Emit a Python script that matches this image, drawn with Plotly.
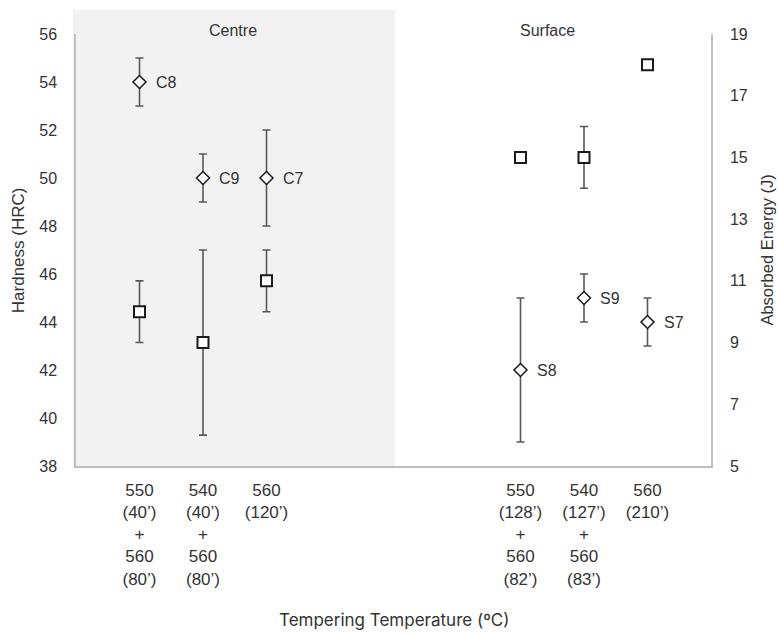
import plotly.graph_objects as go

# Heat-treatment schedules (temperature in ºC, time in minutes)
centre_ticks = ["550<br>(40’)<br>+<br>560<br>(80’)",
                "540<br>(40’)<br>+<br>560<br>(80’)",
                "560<br>(120’)"]
surface_ticks = ["550<br>(128’)<br>+<br>560<br>(82’)",
                 "540<br>(127’)<br>+<br>560<br>(83’)",
                 "560<br>(210’)"]

centre_ids = ["C8", "C9", "C7"]
surface_ids = ["S8", "S9", "S7"]

# Hardness (HRC) with standard deviation
centre_hardness = [54, 50, 50]
centre_hardness_sd = [1, 1, 2]
surface_hardness = [42, 45, 44]
surface_hardness_sd = [3, 1, 1]

# Absorbed energy (J) with standard deviation
centre_energy = [10, 9, 11]
centre_energy_sd = [1, 3, 1]
surface_energy = [15, 15, 18]
surface_energy_sd = [0, 1, 0]

# category slots: centre group at 1-3, surface group at 7-9
xs = [1, 2, 3] + [7, 8, 9]
ticks = centre_ticks + surface_ticks
ids = centre_ids + surface_ids
hardness = centre_hardness + surface_hardness
hardness_sd = centre_hardness_sd + surface_hardness_sd
energy = centre_energy + surface_energy
energy_sd = centre_energy_sd + surface_energy_sd

FONT = "Liberation Sans, Arial, sans-serif"
TXT = "#333333"
ERR = "#595959"
AXIS = "#bfbfbf"

fig = go.Figure()

fig.add_trace(go.Scatter(
    x=xs, y=hardness, mode="markers", name="Hardness",
    marker=dict(symbol="diamond", size=10, color="white",
                line=dict(color="#1a1a1a", width=1.5)),
    error_y=dict(type="data", array=hardness_sd, visible=True,
                 color=ERR, thickness=1.6, width=4),
    showlegend=False,
))

fig.add_trace(go.Scatter(
    x=xs, y=energy, mode="markers", name="Absorbed Energy", yaxis="y2",
    marker=dict(symbol="square", size=11, color="white",
                line=dict(color="#1a1a1a", width=2)),
    error_y=dict(type="data", array=energy_sd, visible=True,
                 color=ERR, thickness=1.6, width=4),
    showlegend=False,
))

# sample labels beside the hardness markers
for x, y, t in zip(xs, hardness, ids):
    fig.add_annotation(x=x, y=y, xref="x", yref="y", text=t, showarrow=False,
                       xanchor="left", yanchor="middle", xshift=14,
                       font=dict(family=FONT, size=16, color=TXT))

# shaded background for the centre region
fig.add_shape(type="rect", xref="paper", yref="paper",
              x0=-0.005, x1=0.5024, y0=-0.005, y1=1.056,
              fillcolor="#f2f2f2", line=dict(width=0), layer="below")

fig.add_annotation(x=0.248, y=1.007, xref="paper", yref="paper", text="Centre",
                   showarrow=False, xanchor="center", yanchor="middle",
                   font=dict(family=FONT, size=16, color=TXT))
fig.add_annotation(x=0.742, y=1.007, xref="paper", yref="paper", text="Surface",
                   showarrow=False, xanchor="center", yanchor="middle",
                   font=dict(family=FONT, size=16, color=TXT))

# axis titles
fig.add_annotation(x=-0.091, y=0.5, xref="paper", yref="paper",
                   text="Hardness (HRC)", textangle=-90, showarrow=False,
                   xanchor="center", yanchor="middle",
                   font=dict(family=FONT, size=17, color=TXT))
fig.add_annotation(x=1.0875, y=0.5, xref="paper", yref="paper",
                   text="Absorbed Energy (J)", textangle=-90, showarrow=False,
                   xanchor="center", yanchor="middle",
                   font=dict(family=FONT, size=16.5, color=TXT))
fig.add_annotation(x=0.5, y=-0.356, xref="paper", yref="paper",
                   text="Tempering Temperature (ºC)", showarrow=False,
                   xanchor="center", yanchor="middle",
                   font=dict(family="Inter, sans-serif", size=17, color=TXT))

fig.update_layout(
    width=778, height=635,
    margin=dict(l=76, r=67, t=34, b=169),
    paper_bgcolor="white", plot_bgcolor="rgba(0,0,0,0)",
    font=dict(family=FONT, size=16, color=TXT),
    xaxis=dict(range=[0, 10], tickvals=xs, ticktext=ticks,
               showgrid=False, zeroline=False, ticks="",
               showline=True, linecolor=AXIS, linewidth=1.5,
               tickfont=dict(family=FONT, size=17, color=TXT),
               ticklabelstandoff=8),
    yaxis=dict(range=[38, 56], tick0=38, dtick=2, showgrid=False,
               zeroline=False, ticks="", showline=True, linecolor=AXIS,
               linewidth=1.5, ticklabelstandoff=14, tickfont=dict(size=16)),
    yaxis2=dict(range=[5, 19], tick0=5, dtick=2, overlaying="y",
                side="right", showgrid=False, zeroline=False, ticks="",
                showline=True, linecolor=AXIS, linewidth=1.5,
                ticklabelstandoff=14, tickfont=dict(size=16)),
)

fig.write_html("out.html")
